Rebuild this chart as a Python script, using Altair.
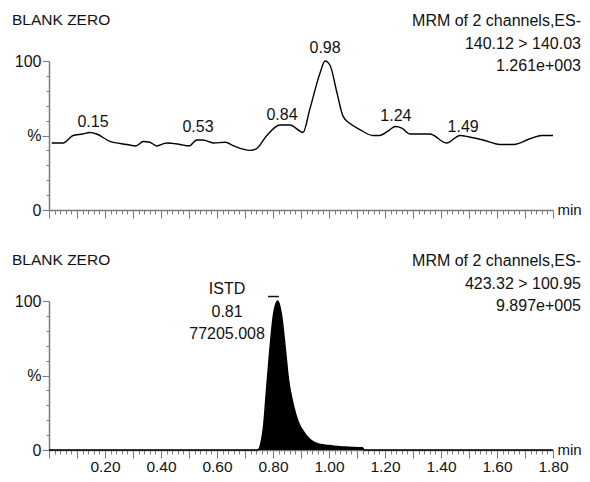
import altair as alt
import pandas as pd

FONT = "Liberation Sans"
GRAY = "#7a7a7a"
FS = 16

# ---- top trace (140.12 > 140.03) ----
top_rt = [0.01, 0.05, 0.086, 0.12, 0.146, 0.17, 0.218, 0.278, 0.31, 0.337, 0.36, 0.385,
          0.42, 0.468, 0.50, 0.528, 0.55, 0.587, 0.63, 0.66, 0.718, 0.74, 0.778, 0.825,
          0.86, 0.896, 0.907, 0.932, 0.968, 0.986, 1.004, 1.028, 1.05, 1.075, 1.11, 1.157,
          1.18, 1.218, 1.236, 1.26, 1.29, 1.36, 1.42, 1.468, 1.50, 1.55, 1.61, 1.66, 1.72,
          1.76, 1.80]
top_pct = [45, 45, 50, 51, 52, 51, 46, 44, 43, 46, 45.5, 43,
           45, 44, 43, 47, 47, 45, 45.5, 43, 40, 41, 50, 57,
           57, 53, 52, 68, 92, 100, 97, 79, 63, 58, 54, 50,
           50, 54, 56, 55, 51, 51, 45, 50, 49, 47, 44, 44, 48,
           50, 50]
top_peak_rt = [0.157, 0.532, 0.832, 0.986, 1.239, 1.479]
top_peak_y = [59, 56, 64, 109, 63, 56]
top_peak_text = ["0.15", "0.53", "0.84", "0.98", "1.24", "1.49"]
top_header = "BLANK ZERO"
top_info = ["MRM of 2 channels,ES-", "140.12 > 140.03", "1.261e+003"]

# ---- bottom trace (423.32 > 100.95, ISTD) ----
bot_rt = [0.0, 0.745, 0.765, 0.777, 0.789, 0.801, 0.817, 0.831, 0.843, 0.855, 0.873,
          0.89, 0.914, 0.95, 0.998, 1.057, 1.12, 1.125, 1.8]
bot_pct = [0, 0, 14, 41, 68, 90, 100, 90, 70, 48, 30,
           19, 11, 5, 3, 2, 1.5, 0, 0]
bot_label_rt = [0.636, 0.636, 0.636]
bot_label_y = [108, 92.6, 77.9]
bot_label_text = ["ISTD", "0.81", "77205.008"]
bot_bar_rt = [0.782]
bot_bar_rt2 = [0.821]
bot_bar_y = [103]
bot_header = "BLANK ZERO"
bot_info = ["MRM of 2 channels,ES-", "423.32 > 100.95", "9.897e+005"]

x_tick_values = [round(i * 0.02, 2) for i in range(0, 91)]
y_tick_values = list(range(0, 101, 10))

W, H = 504, 149

xscale = alt.Scale(domain=[0, 1.8], nice=False, zero=False)
yscale = alt.Scale(domain=[0, 100], nice=False)


def x_axis(show_labels):
    kw = dict(
        values=x_tick_values,
        title="min",
        titleFont=FONT, titleFontSize=15, titleFontWeight="normal", titleColor="#111",
        titleAnchor="start", titleAlign="left", titleBaseline="middle",
        titleX=W + 4, titleY=-1, titleAngle=0,
        domainColor=GRAY, domainWidth=1.5,
        tickColor=GRAY, tickWidth=1,
        tickSize={"condition": {"test": "abs(datum.value*10 - round(datum.value*10)) < 0.001",
                                "value": 8}, "value": 4},
        grid=False, labelOverlap=False, labelFlush=False,
        labelFont=FONT, labelFontSize=15.5, labelColor="#111", labelPadding=1,
    )
    if show_labels:
        kw["labelExpr"] = ("abs(datum.value*5 - round(datum.value*5)) < 0.001 && datum.value > 0.1"
                           " ? format(datum.value, '.2f') : ''")
    else:
        kw["labels"] = False
    return alt.Axis(**kw)


y_axis = alt.Axis(
    values=y_tick_values,
    title="",
    labelExpr="datum.value == 100 ? '100' : datum.value == 50 ? '%' : datum.value == 0 ? '0' : ''",
    domainColor=GRAY, domainWidth=1.5, tickColor=GRAY, tickWidth=1,
    tickSize={"condition": {"test": "datum.value % 50 == 0", "value": 7}, "value": 3},
    grid=False, labelOverlap=False, labelFlush=False,
    labelFont=FONT, labelFontSize=FS, labelColor="#111", labelPadding=1,
)


def panel(trace_df, filled, label_df, header, info, xa, extra=None):
    X = alt.X("rt:Q", scale=xscale, axis=xa)
    Y = alt.Y("pct:Q", scale=yscale, axis=y_axis)
    layers = []
    if filled:
        layers.append(alt.Chart(trace_df).mark_area(color="black", interpolate="monotone")
                      .encode(x=X, y=Y))
    layers.append(alt.Chart(trace_df).mark_line(color="black", strokeWidth=1.4,
                                                interpolate="monotone").encode(x=X, y=Y))
    layers.append(alt.Chart(label_df).mark_text(font=FONT, fontSize=FS, color="#111",
                                                align="center", baseline="middle")
                  .encode(x=X, y=Y, text="label:N"))
    if extra is not None:
        layers.append(extra)
    layers.append(alt.Chart(pd.DataFrame({"label": [header]})).mark_text(
        font=FONT, fontSize=FS - 0.5, color="#111", align="left", baseline="middle")
        .encode(x=alt.value(-37), y=alt.value(-41), text="label:N"))
    layers.append(alt.Chart(pd.DataFrame({"label": ["\n".join(info)]})).mark_text(
        font=FONT, fontSize=FS, color="#111", align="right", baseline="top",
        lineBreak="\n", lineHeight=22.5)
        .encode(x=alt.value(W + 28), y=alt.value(-48), text="label:N"))
    return alt.layer(*layers).properties(width=W, height=H)


top_df = pd.DataFrame({"rt": top_rt, "pct": top_pct})
top_lab = pd.DataFrame({"rt": top_peak_rt, "pct": top_peak_y, "label": top_peak_text})
bot_df = pd.DataFrame({"rt": bot_rt, "pct": bot_pct})
bot_lab = pd.DataFrame({"rt": bot_label_rt, "pct": bot_label_y, "label": bot_label_text})
bar_df = pd.DataFrame({"rt": bot_bar_rt, "rt2": bot_bar_rt2, "pct": bot_bar_y})

xa_top = x_axis(False)
xa_bot = x_axis(True)

bar = alt.Chart(bar_df).mark_rule(color="#111", strokeWidth=1.5).encode(
    x=alt.X("rt:Q", scale=xscale, axis=xa_bot), x2="rt2:Q",
    y=alt.Y("pct:Q", scale=yscale, axis=y_axis))

top = panel(top_df, False, top_lab, top_header, top_info, xa_top)
bottom = panel(bot_df, True, bot_lab, bot_header, bot_info, xa_bot, extra=bar)

chart = alt.vconcat(top, bottom, spacing=91, bounds="flush").properties(
    padding={"left": 4, "top": 5, "right": 0, "bottom": 0}
).configure_view(stroke=None)

chart.save("out.html", embed_options={"renderer": "svg", "actions": False})
